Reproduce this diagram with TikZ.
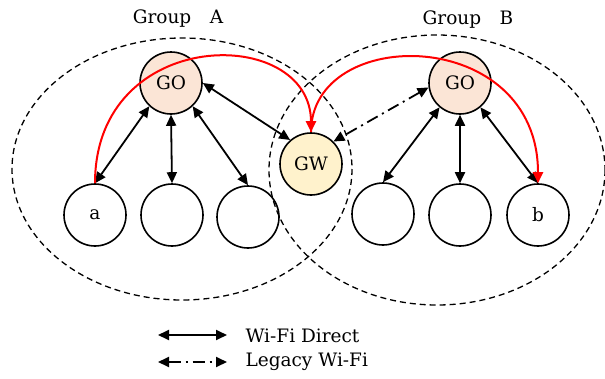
\documentclass[tikz,border=0pt]{standalone}
\usepackage{fontspec}
\setmainfont{DejaVu Serif}
\usetikzlibrary{arrows.meta}
\definecolor{gofill}{HTML}{FBE5D6}
\definecolor{gwfill}{HTML}{FFF2CC}
\definecolor{redarc}{HTML}{FF0000}
\tikzset{
  dev/.style={circle, draw=black, line width=1.6pt, minimum size=62pt, inner sep=0pt, font=\fontsize{18.5}{22}\selectfont},
  gonode/.style={dev, fill=gofill},
  gwnode/.style={dev, fill=gwfill},
  grp/.style={draw=black, line width=1.3pt, dash pattern=on 6pt off 4pt},
  wfd/.style={{Triangle[length=11pt,width=10pt]}-{Triangle[length=11pt,width=10pt]}, line width=1.8pt},
  legacy/.style={wfd, dash pattern=on 12pt off 5pt on 2pt off 5pt},
  redarrow/.style={-{Triangle[length=11pt,width=10pt]}, draw=redarc, line width=2pt},
  lbl/.style={font=\fontsize{18.5}{22}\selectfont},
}
\begin{document}
\begin{tikzpicture}[x=1pt,y=-1pt]
\useasboundingbox (0,0) rectangle (605,378);
\draw[grp] (182,169) ellipse [x radius=170, y radius=131];
\draw[grp] (437,170) ellipse [x radius=168, y radius=135];
\node[lbl] (ga) at (178,19) {Group\quad A};
\node[lbl] (gb) at (468,20) {Group\quad B};
\node[gonode] (goA) at (171,83) {GO};
\node[gonode] (goB) at (460,83) {GO};
\node[gwnode] (gw) at (311,164) {GW};
\node[dev] (a) at (95,215) {a};
\node[dev] (a2) at (172,215) {};
\node[dev] (a3) at (248,217) {};
\node[dev] (b1) at (383,214) {};
\node[dev] (b2) at (460,215) {};
\node[dev] (b) at (538,215) {b};
\draw[wfd] (goA.-133) -- (a.north);
\draw[wfd] (goA.south) -- (a2.north);
\draw[wfd] (goA.-47) -- (a3.north);
\draw[wfd] (goA.east) -- (gw.131);
\draw[wfd] (goB.-130) -- (b1.north);
\draw[wfd] (goB.south) -- (b2.north);
\draw[wfd] (goB.-50) -- (b.north);
\draw[legacy] (goB.188) -- (gw.45);
\draw[redarrow] (a.north) .. controls +(0,-158) and +(0,-108) .. (gw.north);
\draw[redarrow] (gw.north) .. controls +(0,-108) and +(0,-158) .. (b.north);
\coordinate (l1s) at (158,335);
\coordinate (l1e) at (227,335);
\coordinate (l2s) at (158,362);
\coordinate (l2e) at (227,362);
\draw[wfd] (l1s) -- (l1e);
\draw[legacy] (l2s) -- (l2e);
\node[lbl, anchor=west] (t1) at (242,336) {Wi-Fi Direct};
\node[lbl, anchor=west] (t2) at (242,362) {Legacy Wi-Fi};
\end{tikzpicture}
\end{document}
